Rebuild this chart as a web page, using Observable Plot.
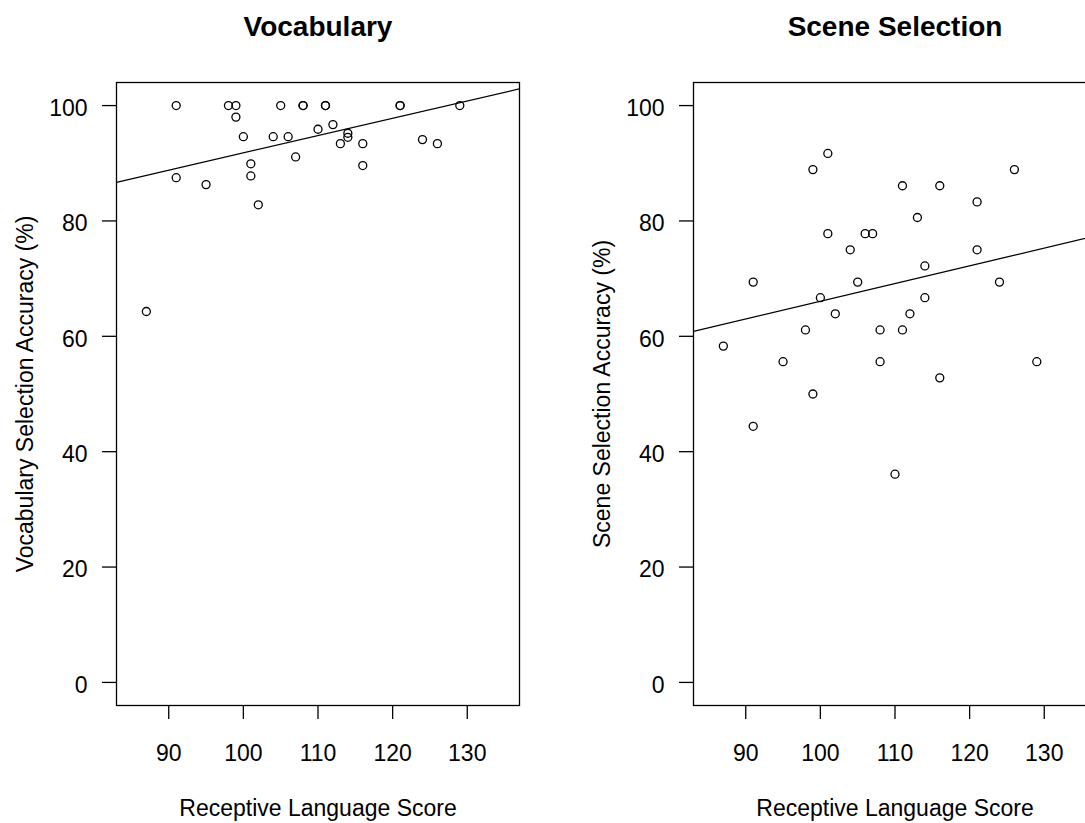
<!DOCTYPE html>
<html>
<head>
<meta charset="utf-8">
<script src="https://cdn.jsdelivr.net/npm/d3@7"></script>
<script src="https://cdn.jsdelivr.net/npm/@observablehq/plot@0.6"></script>
<style>
  html, body { margin: 0; padding: 0; background: #fff; overflow: hidden; }
  #wrap { position: relative; width: 1085px; height: 823px; overflow: hidden; background: #fff; }
  .panel { position: absolute; top: 0; width: 577px; height: 823px; }
</style>
</head>
<body>
<div id="wrap"></div>
<script>
// Receptive language score per participant (shared by both panels)
const scores = [87, 91, 91, 95, 98, 99, 99, 100, 101, 101, 102, 104, 105, 106, 107, 108, 108, 110, 111, 111, 112, 113, 114, 114, 116, 116, 121, 121, 124, 126, 129];
// Vocabulary selection accuracy (%)
const vocabAcc = [64.3, 100, 87.5, 86.3, 100, 100, 98.0, 94.6, 89.9, 87.8, 82.8, 94.6, 100, 94.6, 91.1, 100, 100, 95.9, 100, 100, 96.7, 93.4, 95.2, 94.5, 93.4, 89.6, 100, 100, 94.1, 93.4, 100];
// Scene selection accuracy (%)
const sceneAcc = [58.3, 69.4, 44.4, 55.6, 61.1, 88.9, 50.0, 66.7, 91.7, 77.8, 63.9, 75.0, 69.4, 77.8, 77.8, 61.1, 55.6, 36.1, 86.1, 61.1, 63.9, 80.6, 72.2, 66.7, 86.1, 52.8, 83.3, 75.0, 69.4, 88.9, 55.6];

const panelTitles = ["Vocabulary", "Scene Selection"];
const yLabels = ["Vocabulary Selection Accuracy (%)", "Scene Selection Accuracy (%)"];
const xLabel = "Receptive Language Score";
const xTicks = [90, 100, 110, 120, 130];
const yTicks = [0, 20, 40, 60, 80, 100];
const xLim = [85, 135];
const yLim = [0, 100];

const FONT = "'Liberation Sans', Arial, Helvetica, sans-serif";
// R-style 4% axis extension
const ext = ([a, b]) => [a - (b - a) * 0.04, b + (b - a) * 0.04];
const xDomain = ext(xLim);
const yDomain = ext(yLim);

function fit(xs, ys) {
  const mx = d3.mean(xs), my = d3.mean(ys);
  const b = d3.sum(xs, (x, i) => (x - mx) * (ys[i] - my)) / d3.sum(xs, x => (x - mx) ** 2);
  return [my - b * mx, b];
}

function panel(title, ylab, acc) {
  const data = scores.map((s, i) => ({score: s, acc: acc[i]}));
  const [a, b] = fit(scores, acc);
  const lineData = xDomain.map(x => ({score: x, acc: a + b * x}));
  const txt = {fontFamily: FONT, fill: "black"};
  return Plot.plot({
    width: 577,
    height: 823,
    marginLeft: 116,
    marginRight: 58,
    marginTop: 82,
    marginBottom: 118,
    style: {fontFamily: FONT, fontSize: "23px", color: "black", background: "white"},
    x: {domain: xDomain},
    y: {domain: yDomain},
    marks: [
      Plot.line(lineData, {x: "score", y: "acc", stroke: "black", strokeWidth: 1.2, clip: true}),
      Plot.dot(data, {x: "score", y: "acc", r: 4, stroke: "black", strokeWidth: 1.3, fill: "none"}),
      Plot.frame({stroke: "black", strokeWidth: 1.3}),
      Plot.axisX(xTicks, {tickSize: 14, tickPadding: 25, label: null, strokeWidth: 1.3, fontSize: 23, ...txt}),
      // y ticks (no labels) and y tick labels (nudged down like R)
      Plot.axisY(yTicks, {tickSize: 14, tickFormat: () => null, label: null, strokeWidth: 1.3}),
      Plot.axisY(yTicks, {tickSize: 0, tickPadding: 29, label: null, fontSize: 23, dy: 3, ...txt}),
      Plot.text([title], {text: d => d, frameAnchor: "top", dy: -47, lineAnchor: "bottom", textAnchor: "middle", fontWeight: "bold", fontSize: 28, ...txt}),
      Plot.text([xLabel], {text: d => d, frameAnchor: "bottom", dy: 110, lineAnchor: "bottom", textAnchor: "middle", fontSize: 23, ...txt}),
      Plot.text([ylab], {text: d => d, frameAnchor: "left", dx: -84, rotate: -90, lineAnchor: "bottom", textAnchor: "middle", fontSize: 23, ...txt})
    ]
  });
}

const wrap = document.getElementById("wrap");
[vocabAcc, sceneAcc].forEach((acc, k) => {
  const div = document.createElement("div");
  div.className = "panel";
  div.style.left = (k * 577) + "px";
  div.appendChild(panel(panelTitles[k], yLabels[k], acc));
  wrap.appendChild(div);
});
</script>
</body>
</html>
